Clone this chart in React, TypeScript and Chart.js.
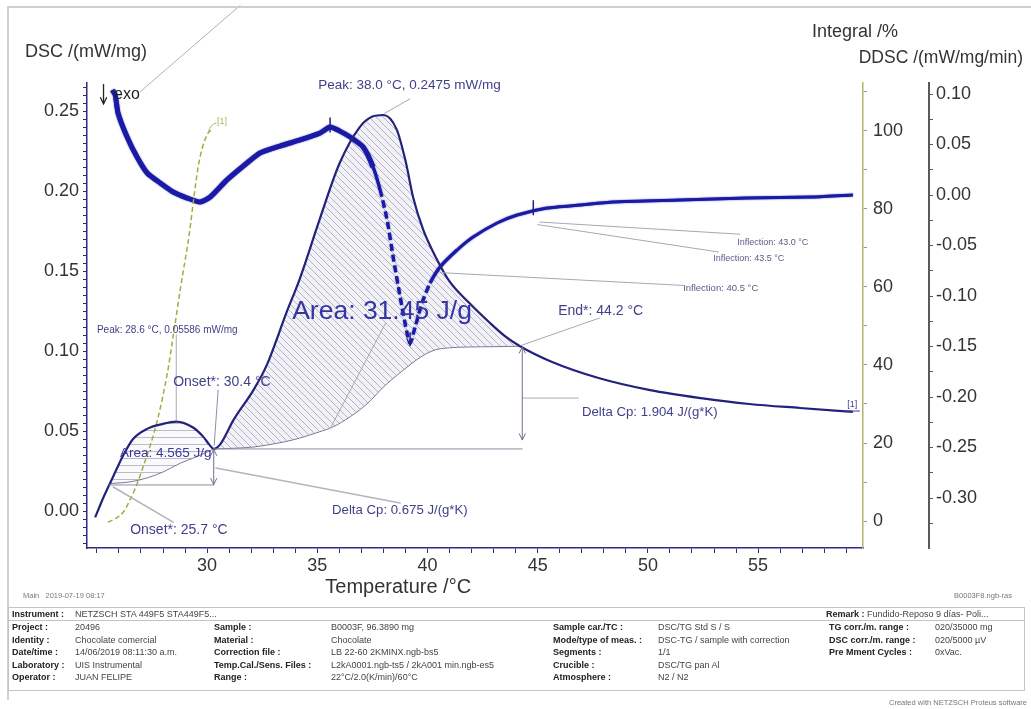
import React, { useEffect, useRef } from "react";
import { Chart, registerables } from "chart.js";

Chart.register(...registerables);

const FONT = '"Liberation Sans", Arial, Helvetica, sans-serif';

// DSC signal (mW/mg) against sample temperature (°C)
const dscTemps = [24.92, 25.28, 25.6, 25.92, 26.2, 26.64, 27.3, 28.0, 28.6, 29.36, 29.82, 30.1, 30.3, 30.6, 31.2, 32.1, 32.7, 33.6, 34.2, 35.1, 36.0, 36.9, 37.5, 38.0, 38.6, 39.0, 39.35, 39.8, 40.4, 41.0, 41.9, 42.8, 43.5, 44.2, 45.6, 47.8, 50.1, 52.4, 54.6, 56.9, 59.3];
const dscValues = [-0.004, 0.008, 0.0175, 0.027, 0.035, 0.045, 0.0515, 0.0545, 0.05586, 0.0522, 0.0465, 0.0415, 0.0388, 0.0418, 0.057, 0.0756, 0.091, 0.124, 0.145, 0.182, 0.217, 0.2395, 0.2465, 0.2475, 0.2385, 0.219, 0.196, 0.176, 0.158, 0.1435, 0.13, 0.118, 0.1095, 0.103, 0.0935, 0.083, 0.0756, 0.0706, 0.0669, 0.0644, 0.062];

// sigmoidal baseline of the main melting peak (Onset 30.4 °C .. End 44.2 °C)
const baseTemps = [30.3, 31.2, 32.1, 32.7, 33.6, 34.2, 35.1, 35.7, 36.5, 37.3, 38.0, 38.8, 39.7, 40.3, 41.0, 41.8, 43.0, 44.2];
const baseValues = [0.0388, 0.0392, 0.04, 0.0412, 0.0435, 0.0456, 0.0495, 0.0525, 0.059, 0.0675, 0.0775, 0.0869, 0.0963, 0.1005, 0.102, 0.1025, 0.1027, 0.103];

// baseline of the small first peak (Onset 25.7 °C .. 30.4 °C)
const smallBaseTemps = [25.6, 26.5, 27.3, 28.0, 28.8, 29.5, 30.3];
const smallBaseValues = [0.0172, 0.0182, 0.0208, 0.0244, 0.03, 0.0338, 0.0388];

// partial integral of the first peak (%)
const integralTemps = [25.5, 25.9, 26.2, 26.5, 26.75, 27.0, 27.2, 27.4, 27.75, 28.2, 28.45, 28.8, 29.2, 29.4, 29.6, 29.8, 30.05, 30.3];
const integralValues = [-0.3, 0.8, 2.3, 5.4, 8.5, 12.3, 15.6, 19.0, 26.0, 38.0, 47.0, 60.0, 74.0, 83.0, 91.0, 96.0, 99.5, 100.5];

// first derivative DDSC (mW/mg/min)
const ddscTemps = [25.7, 25.83, 25.96, 26.37, 26.82, 27.28, 27.87, 28.46, 29.1, 29.68, 30.14, 30.9, 31.81, 32.4, 33.31, 34.22, 35.13, 35.58, 36.0, 36.49, 37.08, 37.53, 37.85, 38.17, 38.44, 38.76, 39.07, 39.21, 39.44, 39.75, 40.12, 40.57, 41.34, 42.07, 43.16, 44.07, 45.43, 46.92, 48.42, 51.46, 54.5, 57.5, 59.3];
const ddscValues = [0.104, 0.099, 0.081, 0.0574, 0.0376, 0.0218, 0.0119, 0.003, -0.003, -0.0069, -0.002, 0.0149, 0.0317, 0.0416, 0.0485, 0.0545, 0.0614, 0.0673, 0.0635, 0.0574, 0.0475, 0.0277, 0.005, -0.0248, -0.0614, -0.101, -0.1366, -0.1465, -0.1307, -0.1069, -0.0871, -0.0713, -0.0545, -0.0416, -0.0277, -0.0198, -0.0129, -0.0099, -0.0069, -0.005, -0.003, -0.002, 0.0];
const ddscDashedRange = [37.7, 40.2];

// labelled ticks
const tempTickLabels = [30, 35, 40, 45, 50, 55];
const dscTickLabels = [0, 0.05, 0.1, 0.15, 0.2, 0.25];
const integralTickLabels = [0, 20, 40, 60, 80, 100];
const ddscTickLabels = [-0.3, -0.25, -0.2, -0.15, -0.1, -0.05, 0, 0.05, 0.1];

// evaluation texts, anchored in (°C, mW/mg)
const notes = [
  { text: "Peak: 38.0 °C, 0.2475 mW/mg", t: 35.04, v: 0.266, size: 13.5, color: "#41418a" },
  { text: "Area: 31.45 J/g", t: 33.86, v: 0.1244, size: 26.5, color: "#3535a3" },
  { text: "End*: 44.2 °C", t: 45.93, v: 0.125, size: 14, color: "#41418a" },
  { text: "Delta Cp: 1.904 J/(g*K)", t: 47.01, v: 0.0619, size: 13.2, color: "#41418a" },
  { text: "Delta Cp: 0.675 J/(g*K)", t: 35.67, v: 0.0006, size: 13.2, color: "#41418a" },
  { text: "Onset*: 30.4 °C", t: 28.46, v: 0.0806, size: 14, color: "#41418a" },
  { text: "Onset*: 25.7 °C", t: 26.51, v: -0.0119, size: 14, color: "#41418a" },
  { text: "Area: 4.565 J/g", t: 26.05, v: 0.0363, size: 13.5, color: "#3a3a98" },
  { text: "Peak: 28.6 °C, 0.05586 mW/mg", t: 25.0, v: 0.113, size: 10, color: "#41418a" },
  { text: "Inflection: 43.0 °C", t: 54.05, v: 0.1675, size: 9, color: "#5a5a86" },
  { text: "Inflection: 43.5 °C", t: 52.96, v: 0.158, size: 9, color: "#5a5a86" },
  { text: "Inflection: 40.5 °C", t: 51.6, v: 0.139, size: 9.5, color: "#5a5a86" },
];

// leader and construction lines, in (°C, mW/mg)
const leaders = [
  { from: [39.2, 0.2575], to: [38.05, 0.2485], color: "#a8a8b4", width: 1 },
  { from: [38.1, 0.1175], to: [35.6, 0.052], color: "#a8a8b4", width: 1 },
  { from: [47.8, 0.1206], to: [44.25, 0.1035], color: "#a8a8b4", width: 1 },
  { from: [44.3, 0.0706], to: [46.85, 0.0706], color: "#a8a8b4", width: 1 },
  { from: [30.3, 0.0388], to: [44.3, 0.0388], color: "#8e8ea6", width: 1 },
  { from: [25.55, 0.0163], to: [30.3, 0.0163], color: "#8e8ea6", width: 1 },
  { from: [30.4, 0.0269], to: [38.76, 0.005], color: "#b4b4be", width: 1.4 },
  { from: [30.5, 0.0756], to: [30.32, 0.041], color: "#8e8ea6", width: 1 },
  { from: [25.74, 0.015], to: [28.46, -0.0069], color: "#b4b4be", width: 1.6 },
  { from: [28.6, 0.11], to: [28.6, 0.0566], color: "#a8a8b4", width: 1 },
  { from: [45.1, 0.1806], to: [54.18, 0.173], color: "#a8a8b4", width: 1 },
  { from: [45.0, 0.179], to: [53.2, 0.1619], color: "#a8a8b4", width: 1 },
  { from: [40.57, 0.149], to: [51.6, 0.141], color: "#a8a8b4", width: 1 },
  { from: [26.96, 0.262], to: [31.5, 0.316], color: "#b0b0b0", width: 1 },
];

// double arrows (Delta Cp steps), in (°C, mW/mg)
const stepArrows = [
  { t: 44.3, top: 0.1025, bottom: 0.0445 },
  { t: 30.3, top: 0.0385, bottom: 0.0166 },
];

const instrumentText = "NETZSCH STA 449F5 STA449F5...";
const remarkText = "Fundido-Reposo 9 días- Poli...";
const infoColumns = [
  { lx: 12, vx: 75, rows: [["Project :", "20496"], ["Identity :", "Chocolate comercial"], ["Date/time :", "14/06/2019 08:11:30 a.m."], ["Laboratory :", "UIS Instrumental"], ["Operator :", "JUAN FELIPE"]] },
  { lx: 214, vx: 331, rows: [["Sample :", "B0003F, 96.3890 mg"], ["Material :", "Chocolate"], ["Correction file :", "LB 22-60 2KMINX.ngb-bs5"], ["Temp.Cal./Sens. Files :", "L2kA0001.ngb-ts5 / 2kA001 min.ngb-es5"], ["Range :", "22°C/2.0(K/min)/60°C"]] },
  { lx: 553, vx: 658, rows: [["Sample car./TC :", "DSC/TG Std S / S"], ["Mode/type of meas. :", "DSC-TG / sample with correction"], ["Segments :", "1/1"], ["Crucible :", "DSC/TG pan Al"], ["Atmosphere :", "N2 / N2"]] },
  { lx: 829, vx: 935, rows: [["TG corr./m. range :", "020/35000 mg"], ["DSC corr./m. range :", "020/5000 µV"], ["Pre Mment Cycles :", "0xVac."]] },
];

const pairs = (xs: number[], ys: number[]) => xs.map((x, i) => ({ x, y: ys[i] }));
const isLabel = (v: number, list: number[]) => list.some((l) => Math.abs(l - v) < 1e-7);

function makePattern(kind: "diag" | "horiz"): CanvasPattern | string {
  const c = document.createElement("canvas");
  const s = 7;
  c.width = s;
  c.height = s;
  const g = c.getContext("2d");
  if (!g) return "rgba(200,200,210,0.4)";
  if (kind === "diag") {
    g.fillStyle = "rgba(240,240,246,0.9)";
    g.fillRect(0, 0, s, s);
    g.strokeStyle = "rgba(135,135,155,0.7)";
    g.lineWidth = 0.8;
    g.beginPath();
    g.moveTo(-1, -1);
    g.lineTo(s + 1, s + 1);
    g.moveTo(-1, s - 1);
    g.lineTo(1, s + 1);
    g.moveTo(s - 1, -1);
    g.lineTo(s + 1, 1);
    g.stroke();
  } else {
    g.fillStyle = "rgba(248,248,252,0.7)";
    g.fillRect(0, 0, s, s);
    g.strokeStyle = "rgba(165,165,182,0.75)";
    g.lineWidth = 1;
    g.beginPath();
    g.moveTo(0, 3.5);
    g.lineTo(s, 3.5);
    g.stroke();
  }
  return g.createPattern(c, "repeat") || "rgba(200,200,210,0.4)";
}

const DDSC_INDEX = 4;

const ddscGlow = {
  id: "ddscGlow",
  beforeDatasetDraw(chart: any, args: any) {
    if (args.index !== DDSC_INDEX) return;
    chart.ctx.save();
    chart.ctx.shadowColor = "rgba(20,20,160,0.9)";
    chart.ctx.shadowBlur = 1.5;
  },
  afterDatasetDraw(chart: any, args: any) {
    if (args.index !== DDSC_INDEX) return;
    chart.ctx.restore();
  },
};

function arrowHead(ctx: CanvasRenderingContext2D, x: number, y: number, dir: 1 | -1) {
  ctx.beginPath();
  ctx.moveTo(x - 3, y - dir * 6);
  ctx.lineTo(x, y);
  ctx.lineTo(x + 3, y - dir * 6);
  ctx.stroke();
}

const notesPlugin = {
  id: "dscNotes",
  afterDatasetsDraw(chart: any) {
    const { ctx } = chart;
    const X = chart.scales.x;
    const Y = chart.scales.y;
    const Y1 = chart.scales.y1;
    const Y2 = chart.scales.y2;
    const px = (t: number) => X.getPixelForValue(t);
    const py = (v: number) => Y.getPixelForValue(v);
    ctx.save();
    ctx.lineCap = "round";

    leaders.forEach((l) => {
      ctx.strokeStyle = l.color;
      ctx.lineWidth = l.width;
      ctx.beginPath();
      ctx.moveTo(px(l.from[0]), py(l.from[1]));
      ctx.lineTo(px(l.to[0]), py(l.to[1]));
      ctx.stroke();
    });

    ctx.strokeStyle = "#6e6e8e";
    ctx.lineWidth = 1;
    stepArrows.forEach((a) => {
      const x = px(a.t);
      const y0 = py(a.top);
      const y1 = py(a.bottom);
      ctx.beginPath();
      ctx.moveTo(x, y0);
      ctx.lineTo(x, y1);
      ctx.stroke();
      arrowHead(ctx, x, y0, -1);
      arrowHead(ctx, x, y1, 1);
    });

    // markers on the DDSC trace
    ctx.strokeStyle = "#20208f";
    ctx.lineWidth = 1.5;
    [35.58, 44.8].forEach((t, i) => {
      const x = px(t);
      const yv = Y2.getPixelForValue(i === 0 ? 0.0673 : -0.0145);
      ctx.beginPath();
      ctx.moveTo(x, yv - 9);
      ctx.lineTo(x, yv + 5);
      ctx.stroke();
    });
    {
      const x = px(39.21);
      const y = Y2.getPixelForValue(-0.1465);
      ctx.beginPath();
      ctx.moveTo(x, y - 10);
      ctx.lineTo(x, y + 2);
      ctx.stroke();
      arrowHead(ctx, x, y + 2, 1);
    }

    // [1] curve tags
    ctx.font = `9px ${FONT}`;
    ctx.textBaseline = "middle";
    ctx.strokeStyle = "#b3b45a";
    ctx.lineWidth = 1;
    ctx.beginPath();
    ctx.moveTo(px(30.05), Y1.getPixelForValue(99.7));
    ctx.quadraticCurveTo(px(30.15), Y1.getPixelForValue(101.8), px(30.4), Y1.getPixelForValue(102));
    ctx.stroke();
    ctx.fillStyle = "#b3b45a";
    ctx.fillText("[1]", px(30.45), Y1.getPixelForValue(102.4));
    ctx.fillStyle = "#3a3a98";
    ctx.fillText("[1]", px(59.05), py(0.0665));
    ctx.strokeStyle = "#3a3a98";
    ctx.beginPath();
    ctx.moveTo(px(58.9), py(0.0625));
    ctx.lineTo(px(59.6), py(0.0625));
    ctx.stroke();

    notes.forEach((n) => {
      ctx.font = `${n.size}px ${FONT}`;
      ctx.fillStyle = n.color;
      ctx.textAlign = "left";
      ctx.textBaseline = "middle";
      ctx.fillText(n.text, px(n.t), py(n.v));
    });

    // exo direction marker
    const ex = px(25.3);
    ctx.strokeStyle = "#222";
    ctx.lineWidth = 1.3;
    ctx.beginPath();
    ctx.moveTo(ex, py(0.2665));
    ctx.lineTo(ex, py(0.2545));
    ctx.stroke();
    arrowHead(ctx, ex, py(0.2545), 1);
    ctx.fillStyle = "#222";
    ctx.font = `16px ${FONT}`;
    ctx.fillText("exo", px(25.78), py(0.2605));
    ctx.restore();
  },
  afterDraw(chart: any) {
    const { ctx, chartArea } = chart;
    ctx.save();
    // page frame
    ctx.strokeStyle = "#cfcfcf";
    ctx.lineWidth = 2;
    ctx.beginPath();
    ctx.moveTo(8, 700);
    ctx.lineTo(8, 7);
    ctx.lineTo(1031, 7);
    ctx.stroke();

    ctx.fillStyle = "#333";
    ctx.textBaseline = "middle";
    ctx.font = `18px ${FONT}`;
    ctx.textAlign = "left";
    ctx.fillText("DSC /(mW/mg)", chartArea.left - 62, chartArea.top - 31);
    ctx.fillText("Integral /%", chartArea.right - 51, chartArea.top - 51);
    ctx.textAlign = "right";
    ctx.font = `17.5px ${FONT}`;
    ctx.fillText("DDSC /(mW/mg/min)", 1023, chartArea.top - 25);
    ctx.textAlign = "center";
    ctx.font = `20px ${FONT}`;
    ctx.fillText("Temperature /°C", chart.scales.x.getPixelForValue(38.67), chartArea.bottom + 39);
    ctx.restore();
  },
};

export default function App() {
  const ref = useRef<HTMLCanvasElement>(null);

  useEffect(() => {
    const canvas = ref.current;
    if (!canvas) return;
    const diag = makePattern("diag");
    const horiz = makePattern("horiz");

    const tickFont = { family: FONT, size: 18 };
    const chart = new Chart(canvas, {
      type: "line",
      data: {
        datasets: [
          {
            label: "DSC",
            data: pairs(dscTemps, dscValues),
            yAxisID: "y",
            borderColor: "#22227c",
            borderWidth: 2.2,
            pointRadius: 0,
            cubicInterpolationMode: "monotone",
            fill: { target: 1 },
            backgroundColor: diag,
          },
          {
            label: "Baseline",
            data: pairs(baseTemps, baseValues),
            yAxisID: "y",
            borderColor: "#7a7a98",
            borderWidth: 1,
            pointRadius: 0,
            cubicInterpolationMode: "monotone",
            fill: false,
          },
          {
            label: "Baseline 1",
            data: pairs(smallBaseTemps, smallBaseValues),
            yAxisID: "y",
            borderColor: "#7a7a98",
            borderWidth: 1,
            pointRadius: 0,
            cubicInterpolationMode: "monotone",
            fill: { target: 0 },
            backgroundColor: horiz,
          },
          {
            label: "Integral",
            data: pairs(integralTemps, integralValues),
            yAxisID: "y1",
            borderColor: "#a9aa3c",
            borderWidth: 1.5,
            borderDash: [5, 3],
            pointRadius: 0,
            cubicInterpolationMode: "monotone",
            fill: false,
          },
          {
            label: "DDSC",
            data: pairs(ddscTemps, ddscValues),
            yAxisID: "y2",
            borderColor: "#1a1aa6",
            borderWidth: 3,
            pointRadius: 0,
            tension: 0.2,
            fill: false,
            segment: {
              borderDash: (c: any) =>
                c.p0.parsed.x >= ddscDashedRange[0] && c.p1.parsed.x <= ddscDashedRange[1] ? [7, 4] : undefined,
              borderWidth: (c: any) => (c.p0.parsed.x < 37.5 ? 5 : c.p0.parsed.x > 41 ? 3 : 3.2),
            },
          },
        ],
      },
      options: {
        responsive: false,
        animation: false,
        devicePixelRatio: 1,
        layout: { padding: { left: 20, right: 32, top: 83, bottom: 111 } },
        plugins: {
          legend: { display: false },
          tooltip: { enabled: false },
          filler: { propagate: false, drawTime: "beforeDatasetsDraw" },
        },
        scales: {
          x: {
            type: "linear",
            position: "bottom",
            min: 24.55,
            max: 59.76,
            border: { display: true, color: "#2c2c80", width: 1.5 },
            grid: { display: true, drawOnChartArea: false, drawTicks: true, tickLength: 5, color: "#2c2c80" },
            ticks: {
              stepSize: 1,
              autoSkip: false,
              includeBounds: false,
              maxRotation: 0,
              padding: 2,
              color: "#333",
              font: tickFont,
              callback: (v: any) => (isLabel(Number(v), tempTickLabels) ? String(Math.round(Number(v))) : ""),
            },
            afterFit: (s: any) => {
              s.height = 50;
            },
          },
          y: {
            type: "linear",
            position: "left",
            min: -0.0231,
            max: 0.2675,
            border: { display: true, color: "#2c2c80", width: 1.5 },
            grid: { display: true, drawOnChartArea: false, drawTicks: true, tickLength: 4, color: "#2c2c80" },
            ticks: {
              stepSize: 0.005,
              autoSkip: false,
              includeBounds: false,
              padding: 4,
              color: "#333",
              font: tickFont,
              callback: (v: any) => (isLabel(Number(v), dscTickLabels) ? Number(v).toFixed(2) : ""),
            },
            afterFit: (s: any) => {
              s.width = 67;
            },
          },
          y1: {
            type: "linear",
            position: "right",
            weight: 0,
            min: -6.92,
            max: 112.3,
            border: { display: true, color: "#b4b46c", width: 1.5 },
            grid: { display: true, drawOnChartArea: false, drawTicks: true, tickLength: 4, color: "#9c9c70" },
            ticks: {
              stepSize: 10,
              autoSkip: false,
              includeBounds: false,
              padding: 6,
              color: "#333",
              font: tickFont,
              callback: (v: any) => (isLabel(Number(v), integralTickLabels) ? String(Math.round(Number(v))) : ""),
            },
            afterFit: (s: any) => {
              s.width = 66;
            },
          },
          y2: {
            type: "linear",
            position: "right",
            weight: 1,
            min: -0.3495,
            max: 0.1109,
            border: { display: true, color: "#5a5a5a", width: 2 },
            grid: { display: true, drawOnChartArea: false, drawTicks: true, tickLength: 4, color: "#5a5a5a" },
            ticks: {
              stepSize: 0.025,
              autoSkip: false,
              includeBounds: false,
              padding: 3,
              color: "#333",
              font: tickFont,
              callback: (v: any) => (isLabel(Number(v), ddscTickLabels) ? Number(v).toFixed(2) : ""),
            },
            afterFit: (s: any) => {
              s.width = 70;
            },
          },
        },
      } as any,
      plugins: [ddscGlow, notesPlugin],
    });
    return () => chart.destroy();
  }, []);

  const small: React.CSSProperties = { position: "absolute", fontSize: 9, color: "#444", whiteSpace: "nowrap", lineHeight: "12px" };
  const bold: React.CSSProperties = { ...small, fontWeight: 700, color: "#222" };
  const rowTop = (i: number) => 621 + i * 12.6;

  return (
    <div style={{ position: "absolute", left: 0, top: 0, width: 1031, height: 709, background: "#fff", fontFamily: FONT, overflow: "hidden" }}>
      <canvas ref={ref} width={1031} height={709} style={{ display: "block", width: 1031, height: 709 }} />
      <div style={{ ...small, left: 23, top: 590, fontSize: 7.5, color: "#777" }}>Main&nbsp;&nbsp;&nbsp;2019-07-19 08:17</div>
      <div style={{ ...small, right: 19, top: 590, fontSize: 7.5, color: "#777" }}>B0003F8.ngb-ras</div>
      <div style={{ position: "absolute", left: 8, top: 607, width: 1017, height: 84, border: "1px solid #c4c4c4", boxSizing: "border-box" }} />
      <div style={{ position: "absolute", left: 8, top: 620, width: 1017, height: 1, background: "#c4c4c4" }} />
      <div style={{ ...bold, left: 12, top: 608 }}>Instrument :</div>
      <div style={{ ...small, left: 75, top: 608 }}>{instrumentText}</div>
      <div style={{ ...bold, left: 826, top: 608 }}>Remark :</div>
      <div style={{ ...small, left: 867, top: 608 }}>{remarkText}</div>
      {infoColumns.map((col, ci) =>
        col.rows.map((r, ri) => (
          <React.Fragment key={`${ci}-${ri}`}>
            <div style={{ ...bold, left: col.lx, top: rowTop(ri) }}>{r[0]}</div>
            <div style={{ ...small, left: col.vx, top: rowTop(ri) }}>{r[1]}</div>
          </React.Fragment>
        ))
      )}
      <div style={{ ...small, right: 4, top: 697, fontSize: 7.5, color: "#777" }}>Created with NETZSCH Proteus software</div>
    </div>
  );
}
